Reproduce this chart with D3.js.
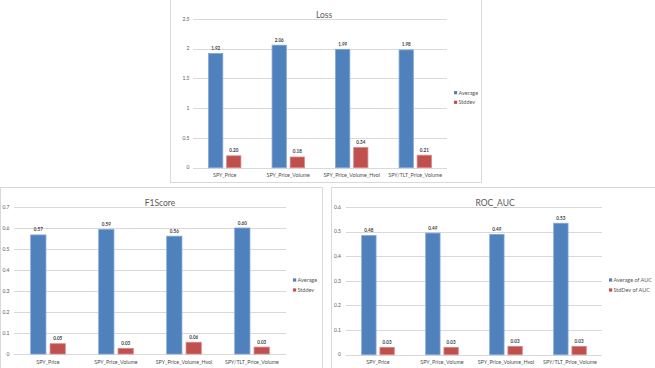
<!DOCTYPE html>
<html><head><meta charset="utf-8">
<script src="https://cdn.jsdelivr.net/npm/d3@7/dist/d3.min.js"></script>
<style>
html,body{margin:0;padding:0;background:#fff;}
svg{display:block;}
text{font-family:Lato,"Liberation Sans",sans-serif;}
</style></head>
<body>
<script>
const categories = ["SPY_Price","SPY_Price_Volume","SPY_Price_Volume_Hvol","SPY/TLT_Price_Volume"];
const lossAvg = [1.92, 2.06, 1.99, 1.98];
const lossStd = [0.20, 0.18, 0.34, 0.21];
const lossTicks = [0, 0.5, 1, 1.5, 2, 2.5];
const f1Avg = [0.567, 0.593, 0.561, 0.600];
const f1Std = [0.049, 0.027, 0.056, 0.033];
const f1Ticks = [0, 0.1, 0.2, 0.3, 0.4, 0.5, 0.6, 0.7];
const aucAvg = [0.484, 0.494, 0.489, 0.534];
const aucStd = [0.030, 0.030, 0.034, 0.034];
const aucTicks = [0, 0.1, 0.2, 0.3, 0.4, 0.5, 0.6];
const lossSeries = ["Average", "Stddev"];
const f1Series = ["Average", "Stddev"];
const aucSeries = ["Average of AUC", "StdDev of AUC"];

const W = 655, H = 368;
const svg = d3.select("body").append("svg").attr("width", W).attr("height", H);
const colors = ["#4F81BD", "#C0504D"];
const strokes = ["#7FA6D6", "#D98784"];

function chart(o) {
  const g = svg.append("g");
  g.append("rect").attr("x", o.box[0] + 0.5).attr("y", o.box[1] + 0.5)
    .attr("width", o.box[2] - o.box[0]).attr("height", o.box[3] - o.box[1])
    .attr("fill", "#fff").attr("stroke", "#d9d9d9");
  const x = d3.scaleBand().domain(o.cats).range([o.plot[0], o.plot[1]]).padding(0);
  const y = d3.scaleLinear().domain([0, o.max]).range([o.plot[2], o.plot[3]]);
  g.selectAll(".grid").data(o.ticks).join("line")
    .attr("x1", o.plot[0]).attr("x2", o.plot[1])
    .attr("y1", d => Math.round(y(d)) + 0.5).attr("y2", d => Math.round(y(d)) + 0.5)
    .attr("stroke", "#d9d9d9").attr("stroke-width", 1);
  g.selectAll(".yl").data(o.ticks).join("text")
    .attr("x", o.plot[0] - o.labGap).attr("y", d => y(d)).attr("dy", "0.35em")
    .attr("text-anchor", "end").attr("font-size", 5).attr("fill", "#595959")
    .text(d => String(d));
  const bw = x.bandwidth() / 4.46;
  const off = [x.bandwidth() * 0.5 - bw * 1.135, x.bandwidth() * 0.5 + bw * 0.135];
  [o.avg, o.std].forEach((vals, si) => {
    g.selectAll(".b" + si).data(vals).join("rect")
      .attr("x", (d, i) => x(o.cats[i]) + off[si])
      .attr("y", d => y(d))
      .attr("width", bw)
      .attr("height", d => y(0) - y(d))
      .attr("fill", colors[si]).attr("stroke", strokes[si]).attr("stroke-width", 0.8);
    g.selectAll(".v" + si).data(vals).join("text")
      .attr("x", (d, i) => x(o.cats[i]) + off[si] + bw / 2)
      .attr("y", d => y(d) - 3.5)
      .attr("text-anchor", "middle").attr("font-size", 4.6).attr("font-weight", "bold")
      .attr("fill", "#404040")
      .text(d => d.toFixed(2));
  });
  g.selectAll(".cl").data(o.cats).join("text")
    .attr("x", d => x(d) + x.bandwidth() / 2).attr("y", o.catY).attr("dy", "0.35em")
    .attr("text-anchor", "middle").attr("font-size", 5.3).attr("fill", "#505050")
    .text(d => d);
  g.append("text").attr("x", o.title[1]).attr("y", o.title[2]).attr("dy", "0.35em")
    .attr("text-anchor", "middle").attr("font-size", 8.5).attr("fill", "#595959")
    .text(o.title[0]);
  o.series.forEach((s, i) => {
    const ly = o.legend[1] + i * o.legend[2];
    g.append("rect").attr("x", o.legend[0]).attr("y", ly - 1.6).attr("width", 3.2).attr("height", 3.2)
      .attr("fill", colors[i]);
    g.append("text").attr("x", o.legend[0] + 4.5).attr("y", ly).attr("dy", "0.35em")
      .attr("font-size", 5.5).attr("fill", "#595959").text(s);
  });
}

chart({box:[170,-1,481,182], plot:[193,447,167.7,19], max:2.5, ticks:lossTicks, labGap:3.5,
  cats:categories, avg:lossAvg, std:lossStd, catY:175, title:["Loss",324,15],
  series:lossSeries, legend:[454,92.7,9.6]});
chart({box:[0,187,322,369], plot:[14,286,354,207], max:0.7, ticks:f1Ticks, labGap:4.5,
  cats:categories, avg:f1Avg, std:f1Std, catY:362, title:["F1Score",160,203],
  series:f1Series, legend:[293,280,10]});
chart({box:[331,187,656,369], plot:[346,602,354.7,207], max:0.6, ticks:aucTicks, labGap:5,
  cats:categories, avg:aucAvg, std:aucStd, catY:362, title:["ROC_AUC",495,203],
  series:aucSeries, legend:[609,280,10]});
</script>
</body></html>
